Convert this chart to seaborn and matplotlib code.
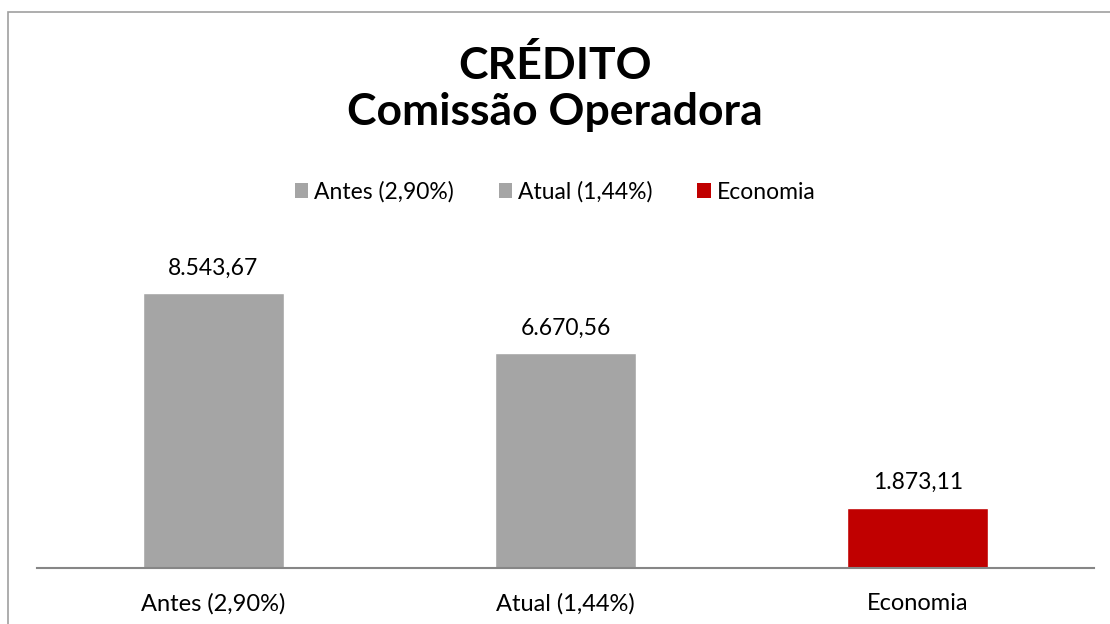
import matplotlib
matplotlib.use("Agg")
import matplotlib.pyplot as plt
from matplotlib.patches import Patch, Rectangle
import seaborn as sns
import pandas as pd

categories = ["Antes (2,90%)", "Atual (1,44%)", "Economia"]
values = [8543.67, 6670.56, 1873.11]
value_labels = ["8.543,67", "6.670,56", "1.873,11"]
colors = ["#a5a5a5", "#a5a5a5", "#c00000"]

sns.set_style("white")
plt.rcParams["font.family"] = ["Lato", "DejaVu Sans"]
plt.rcParams["text.color"] = "black"
plt.rcParams["xtick.color"] = "black"

df = pd.DataFrame({"cat": categories, "val": values})

fig = plt.figure(figsize=(11.1, 6.24), dpi=100)
# axes in pixels: left 37, right 1094, bottom 568
ax = fig.add_axes([37 / 1110, (624 - 568) / 624, (1094 - 37) / 1110, 322 / 624])
sns.barplot(data=df, x="cat", y="val", hue="cat", palette=colors,
            width=0.4, legend=False, ax=ax, saturation=1)
ax.set_ylim(0, 10000)
ax.set_xlim(-0.5, 2.5)

for i, (v, lab) in enumerate(zip(values, value_labels)):
    ax.text(i, v + 450, lab, ha="center", va="bottom", fontsize=16.5, color="black")

sns.despine(ax=ax, left=True, top=True, right=True)
ax.spines["bottom"].set_color("#868686")
ax.spines["bottom"].set_linewidth(1.5)
ax.set_yticks([])
ax.set_xlabel("")
ax.set_ylabel("")
ax.tick_params(axis="x", length=0, labelsize=17, pad=18, labelcolor="black")

fig.text(0.5, 1 - 79 / 624, "CRÉDITO", ha="center", va="baseline",
         fontsize=32, fontweight="bold", color="black")
fig.text(0.5, 1 - 125 / 624, "Comissão Operadora", ha="center", va="baseline",
         fontsize=32, fontweight="bold", color="black")

handles = [Patch(facecolor=c, edgecolor="none", label=l) for c, l in zip(colors, categories)]
fig.legend(handles=handles, loc="center", bbox_to_anchor=(0.5, 1 - 192 / 624),
           ncol=3, frameon=False, fontsize=16.5, handlelength=0.6, handleheight=0.6,
           handletextpad=0.25, columnspacing=1.95, labelcolor="black")

# chart border
fig.patches.append(Rectangle((8 / 1110, -0.1), 1.2, 1 - 12 / 624 + 0.1,
                             transform=fig.transFigure, fill=False,
                             edgecolor="#a0a0a0", linewidth=1.2))

fig.savefig("out.png", dpi=100, facecolor="white")
